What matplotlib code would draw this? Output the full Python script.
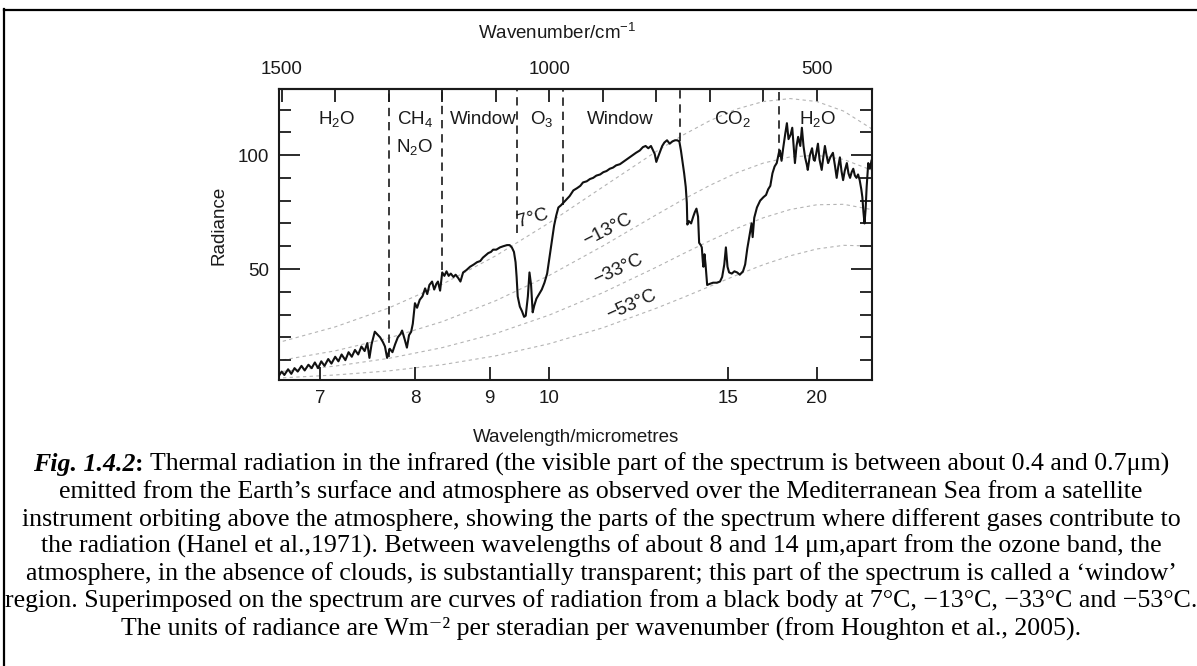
import matplotlib
matplotlib.use("Agg")
import matplotlib.pyplot as plt
from matplotlib.lines import Line2D
import numpy as np

plt.rcParams['font.family'] = ['Liberation Sans', 'DejaVu Sans']
plt.rcParams['mathtext.fontset'] = 'custom'
plt.rcParams['mathtext.rm'] = 'Liberation Sans'
plt.rcParams['mathtext.it'] = 'Liberation Sans:italic'
plt.rcParams['mathtext.bf'] = 'Liberation Sans:bold'

# ---------------- data ----------------
# measured spectrum: wavenumber (cm^-1) and radiance
wavenumber = [1507, 1500, 1495, 1488, 1482, 1476, 1470, 1463, 1457, 1450, 1444, 1438, 1432, 1426,
              1420, 1413, 1407, 1400, 1394, 1388, 1381, 1375, 1369, 1363, 1357, 1351, 1345, 1340,
              1336, 1332, 1326, 1320, 1316, 1311, 1307, 1303, 1298, 1293, 1288, 1283, 1278, 1275,
              1270, 1266, 1262, 1258, 1255, 1251, 1247, 1242, 1237, 1232, 1228, 1224, 1219, 1215,
              1211, 1208, 1204, 1200, 1196, 1192, 1188, 1184, 1179, 1175, 1170, 1166, 1161, 1155,
              1148, 1141, 1135, 1129, 1124, 1119, 1114, 1109, 1105, 1099, 1092, 1086, 1079, 1074,
              1070, 1066, 1063, 1061, 1059, 1055, 1051, 1047, 1044, 1040, 1037, 1034, 1031, 1028,
              1024, 1019, 1014, 1009, 1004, 999, 995, 991, 987, 983, 978, 974, 968, 962, 955, 948,
              942, 937, 930, 924, 918, 912, 905, 899, 893, 887, 881, 875, 868, 862, 856, 850, 844,
              838, 831, 825, 820, 815, 810, 806, 803, 800, 797, 793, 789, 785, 780, 775, 770, 765,
              761, 757, 754, 751, 748, 745, 743, 742, 739, 735, 731, 728, 725, 722, 720, 717, 715,
              713, 712, 710, 708, 705, 700, 694, 687, 681, 677, 673, 670, 667, 664, 659, 654, 649,
              644, 638, 634, 630, 626, 622, 620, 617, 612, 606, 600, 595, 591, 587, 583, 579, 575,
              571, 569, 566, 563, 559, 556, 553, 549, 546, 543, 541, 538, 535, 531, 528, 525, 522,
              519, 517, 513, 509, 506, 504, 501, 498, 495, 491, 488, 485, 482, 479, 475, 470, 466,
              463, 460, 457, 454, 451, 448, 444, 441, 438, 435, 432, 429, 426, 423, 420, 417, 415,
              413, 411, 409, 407, 404, 401, 398]
radiance = [2.5, 5.0, 3.5, 6.0, 4.0, 6.5, 5.0, 7.5, 5.5, 8.0, 6.5, 9.0, 6.5, 9.5,
            7.5, 10.5, 8.5, 11.5, 9.5, 12.5, 10.0, 13.5, 11.5, 14.5, 12.5, 16.0, 14.0, 17.5,
            11.0, 17.0, 22.5, 21.0, 20.0, 18.0, 16.0, 11.0, 15.0, 13.5, 17.0, 20.0, 21.5, 23.0,
            19.0, 15.5, 21.0, 22.5, 26.0, 35.0, 33.0, 36.5, 38.0, 41.5, 39.0, 43.0, 44.5, 41.0,
            43.5, 44.5, 40.5, 48.5, 47.0, 49.0, 47.0, 48.0, 46.5, 47.5, 46.0, 44.5, 48.5, 49.5,
            51.0, 52.0, 53.0, 53.5, 55.0, 56.0, 57.0, 57.5, 58.5, 58.5, 59.5, 60.0, 60.5, 60.5,
            59.5, 57.5, 53.0, 46.5, 38.0, 33.5, 31.5, 29.0, 29.5, 38.0, 48.5, 43.0, 31.0, 34.0,
            37.0, 39.0, 41.0, 44.0, 48.0, 56.0, 62.5, 69.0, 73.5, 77.0, 78.0, 79.0, 80.5, 82.0, 84.5, 85.5,
            86.5, 88.0, 88.5, 89.5, 90.0, 91.0, 91.5, 92.5, 93.0, 94.0, 94.5, 95.5, 96.0, 97.0, 98.0, 99.0, 100.0,
            101.0, 102.0, 103.5, 104.0, 103.0, 104.0, 102.0, 100.5, 97.0, 99.0, 101.5, 104.0, 105.5, 106.5, 105.0, 106.0, 106.5,
            106.5, 106.0, 102.0, 97.0, 92.0, 86.0, 79.0, 69.5, 71.0, 70.0, 73.0, 75.0, 76.5, 73.0, 61.5, 60.5, 59.5,
            53.0, 51.0, 56.5, 52.0, 43.0, 43.5, 44.0, 44.0, 44.5, 46.5, 52.0, 59.5, 51.0, 48.5, 48.0, 49.0, 48.5,
            47.5, 49.0, 52.0, 59.0, 64.5, 70.0, 64.0, 72.5, 77.0, 80.0, 81.5, 82.5, 85.0, 86.5, 92.0, 95.0, 96.5,
            101.0, 102.0, 97.5, 103.0, 109.5, 114.0, 107.0, 109.0, 112.0, 103.0, 96.5, 104.0, 108.0, 104.0, 112.0, 104.0, 99.0,
            96.0, 93.5, 100.0, 103.0, 98.0, 97.5, 101.0, 105.0, 98.0, 93.5, 99.0, 104.0, 100.0, 96.5, 99.0, 101.0, 95.0,
            90.0, 95.0, 99.0, 93.0, 89.0, 93.0, 96.5, 92.0, 90.0, 92.5, 94.0, 91.0, 90.0, 91.5, 89.0, 85.0, 81.5,
            75.0, 70.0, 76.0, 86.0, 96.5, 94.0, 97.5]

# black-body reference curves
bb_wavenumber = [1510, 1400, 1300, 1200, 1100, 1000, 900, 800, 750, 700, 650, 600, 550, 500, 450, 400, 390]
bb_7C = [17.5, 24.6, 32.9, 43.3, 55.8, 70.3, 86.0, 101.6, 108.8, 115.1, 120.2, 123.5, 124.8, 123.5, 119.3, 111.9, 110.1]
bb_m13C = [9.6, 14.1, 19.7, 26.9, 36.1, 47.2, 60.1, 73.8, 80.5, 86.7, 92.2, 96.5, 99.2, 99.9, 98.1, 93.6, 92.3]
bb_m33C = [4.8, 7.4, 10.8, 15.5, 21.7, 29.8, 39.6, 50.8, 56.7, 62.4, 67.8, 72.5, 76.1, 78.2, 78.4, 76.2, 75.5]
bb_m53C = [2.1, 3.5, 5.3, 8.0, 11.9, 17.2, 24.2, 32.8, 37.5, 42.4, 47.3, 51.9, 55.8, 58.8, 60.4, 60.1, 59.8]
bb_labels = ["7°C", "\u221213°C", "\u221233°C", "\u221253°C"]

# band boundaries (cm^-1) and where each dashed line stops (radiance)
boundary_wn = [1300, 1200, 1060, 975, 755, 570]
boundary_low = [11.5, 49.5, 66.0, 78.0, 106.0, 99.0]

# band names
band_names = ["H$_2$O", "CH$_4$", "N$_2$O", "Window", "O$_3$", "Window", "CO$_2$", "H$_2$O"]
band_wn = [1397, 1251, 1251, 1124, 1015, 868, 658, 498]
band_rad = [113.5, 113.5, 101.5, 113.5, 113.5, 113.5, 113.5, 113.5]

# axis ticks
wavelength_ticks = [7, 8, 9, 10, 15, 20]
wavenumber_major = [1500, 1000, 500]
wavenumber_minor = [1400, 1300, 1200, 1100, 900, 800, 700, 600]
radiance_major = [50, 100]
radiance_minor = [10, 20, 30, 40, 60, 70, 80, 90, 110, 120]

caption_lines = [
    "emitted from the Earth\u2019s surface and atmosphere as observed over the Mediterranean Sea from a satellite",
    "instrument orbiting above the atmosphere, showing the parts of the spectrum where different gases contribute to",
    "the radiation (Hanel et al.,1971). Between wavelengths of about 8 and 14 \u03bcm,apart from the ozone band, the",
    "atmosphere, in the absence of clouds, is substantially transparent; this part of the spectrum is called a \u2018window\u2019",
    "region. Superimposed on the spectrum are curves of radiation from a black body at 7°C, \u221213°C, \u221233°C and \u221253°C.",
    "The units of radiance are Wm\u207b\u00b2 per steradian per wavenumber (from Houghton et al., 2005).",
]
caption_head = ["Fig. 1.4.2", ":", " Thermal radiation in the infrared (the visible part of the spectrum is between about 0.4 and 0.7\u03bcm)"]

# ---------------- figure ----------------
W, H = 1197, 666
fig = plt.figure(figsize=(W / 100, H / 100), dpi=100)
fig.patch.set_facecolor("white")

L, R, T, B = 279, 872, 89, 380
ax = fig.add_axes([L / W, 1 - B / H, (R - L) / W, (B - T) / H])
ax.set_xlim(1505, 397)
ax.set_ylim(1.3, 129)

ink = "#1a1a1a"
for bb in (bb_7C, bb_m13C, bb_m33C, bb_m53C):
    ax.plot(bb_wavenumber, bb, color="#b4b4b4", lw=0.8, dashes=(3, 3), zorder=1)

ax.plot(wavenumber, radiance, color="#111111", lw=1.5, zorder=3)

for wb, lo in zip(boundary_wn, boundary_low):
    ax.plot([wb, wb], [lo, 129], color=ink, lw=1.2, dashes=(5, 3.5), zorder=2)

fs = 13.5
for name, xw, yr in zip(band_names, band_wn, band_rad):
    ax.text(xw, yr, name, ha="center", va="baseline", fontsize=fs, color=ink, zorder=4)

label_pos_wn = [1031, 892, 871, 847]
label_pos_rad = [72.4, 67.1, 49.6, 34.2]
label_rot = [16, 27, 25, 24]
for s, xw, yr, rot in zip(bb_labels, label_pos_wn, label_pos_rad, label_rot):
    ax.text(xw, yr, s, ha="center", va="center", rotation=rot, rotation_mode="anchor",
            fontsize=fs, color=ink, zorder=4)

for sp in ax.spines.values():
    sp.set_linewidth(1.5)
    sp.set_color(ink)

ax.set_xticks([1e4 / w for w in wavelength_ticks])
ax.set_xticklabels([str(w) for w in wavelength_ticks])
ax.tick_params(axis="x", which="major", direction="in", length=9.5, width=1.3, pad=7,
               labelsize=fs, colors=ink, top=False)
ax.set_yticks(radiance_major)
ax.set_yticks(radiance_minor, minor=True)
ax.set_yticklabels([str(v) for v in radiance_major])
ax.tick_params(axis="y", which="major", direction="in", length=15, width=1.3, pad=7,
               labelsize=fs, colors=ink, right=True)
ax.tick_params(axis="y", which="minor", direction="in", length=8.5, width=1.3, right=True, colors=ink)

sec = ax.secondary_xaxis("top", functions=(lambda v: v, lambda v: v))
sec.set_xticks(wavenumber_major)
sec.set_xticks(wavenumber_minor, minor=True)
sec.set_xticklabels([str(v) for v in wavenumber_major])
sec.tick_params(axis="x", which="both", direction="in", length=9.5, width=1.3, pad=8,
                labelsize=fs, colors=ink)
sec.spines["top"].set_linewidth(1.5)
sec.spines["top"].set_color(ink)

fig.text(219 / W, 1 - 225 / H, "Radiance", rotation=90, ha="center", va="center", fontsize=fs, color=ink)
fig.text(576 / W, 1 - 437 / H, "Wavelength/micrometres", ha="center", va="center", fontsize=fs, color=ink)
fig.text(557 / W, 1 - 33 / H, "Wavenumber/cm$^{-1}$", ha="center", va="center", fontsize=fs, color=ink)

# border of the figure box
fig.add_artist(Line2D([3.5 / W, 3.5 / W], [0, 1 - 9 / H], color="black", lw=1.6, transform=fig.transFigure))
fig.add_artist(Line2D([3.5 / W, 1], [1 - 9.5 / H, 1 - 9.5 / H], color="black", lw=1.6, transform=fig.transFigure))

# ---------------- caption ----------------
cap_font = ["Liberation Serif", "DejaVu Serif"]
renderer = fig.canvas.get_renderer()
probe = fig.text(0, 0, caption_lines[4], fontsize=18, family=cap_font)
wprobe = probe.get_window_extent(renderer).width
probe.remove()
cap_fs = 18 * 1194 / wprobe
cx = 601
base0 = 471
step = 27.3

heads = [
    fig.text(0, 1 - base0 / H, caption_head[0], fontsize=cap_fs, family=cap_font, style="italic", weight="bold", va="baseline"),
    fig.text(0, 1 - base0 / H, caption_head[1], fontsize=cap_fs, family=cap_font, weight="bold", va="baseline"),
    fig.text(0, 1 - base0 / H, caption_head[2], fontsize=cap_fs, family=cap_font, va="baseline"),
]
widths = [t.get_window_extent(renderer).width for t in heads]
x = cx - sum(widths) / 2
for t, wd in zip(heads, widths):
    t.set_x(x / W)
    x += wd

for i, line in enumerate(caption_lines):
    fig.text(cx / W, 1 - (base0 + step * (i + 1)) / H, line, ha="center", va="baseline",
             fontsize=cap_fs, family=cap_font, color="black")

fig.savefig("out.png", dpi=100, facecolor="white")
